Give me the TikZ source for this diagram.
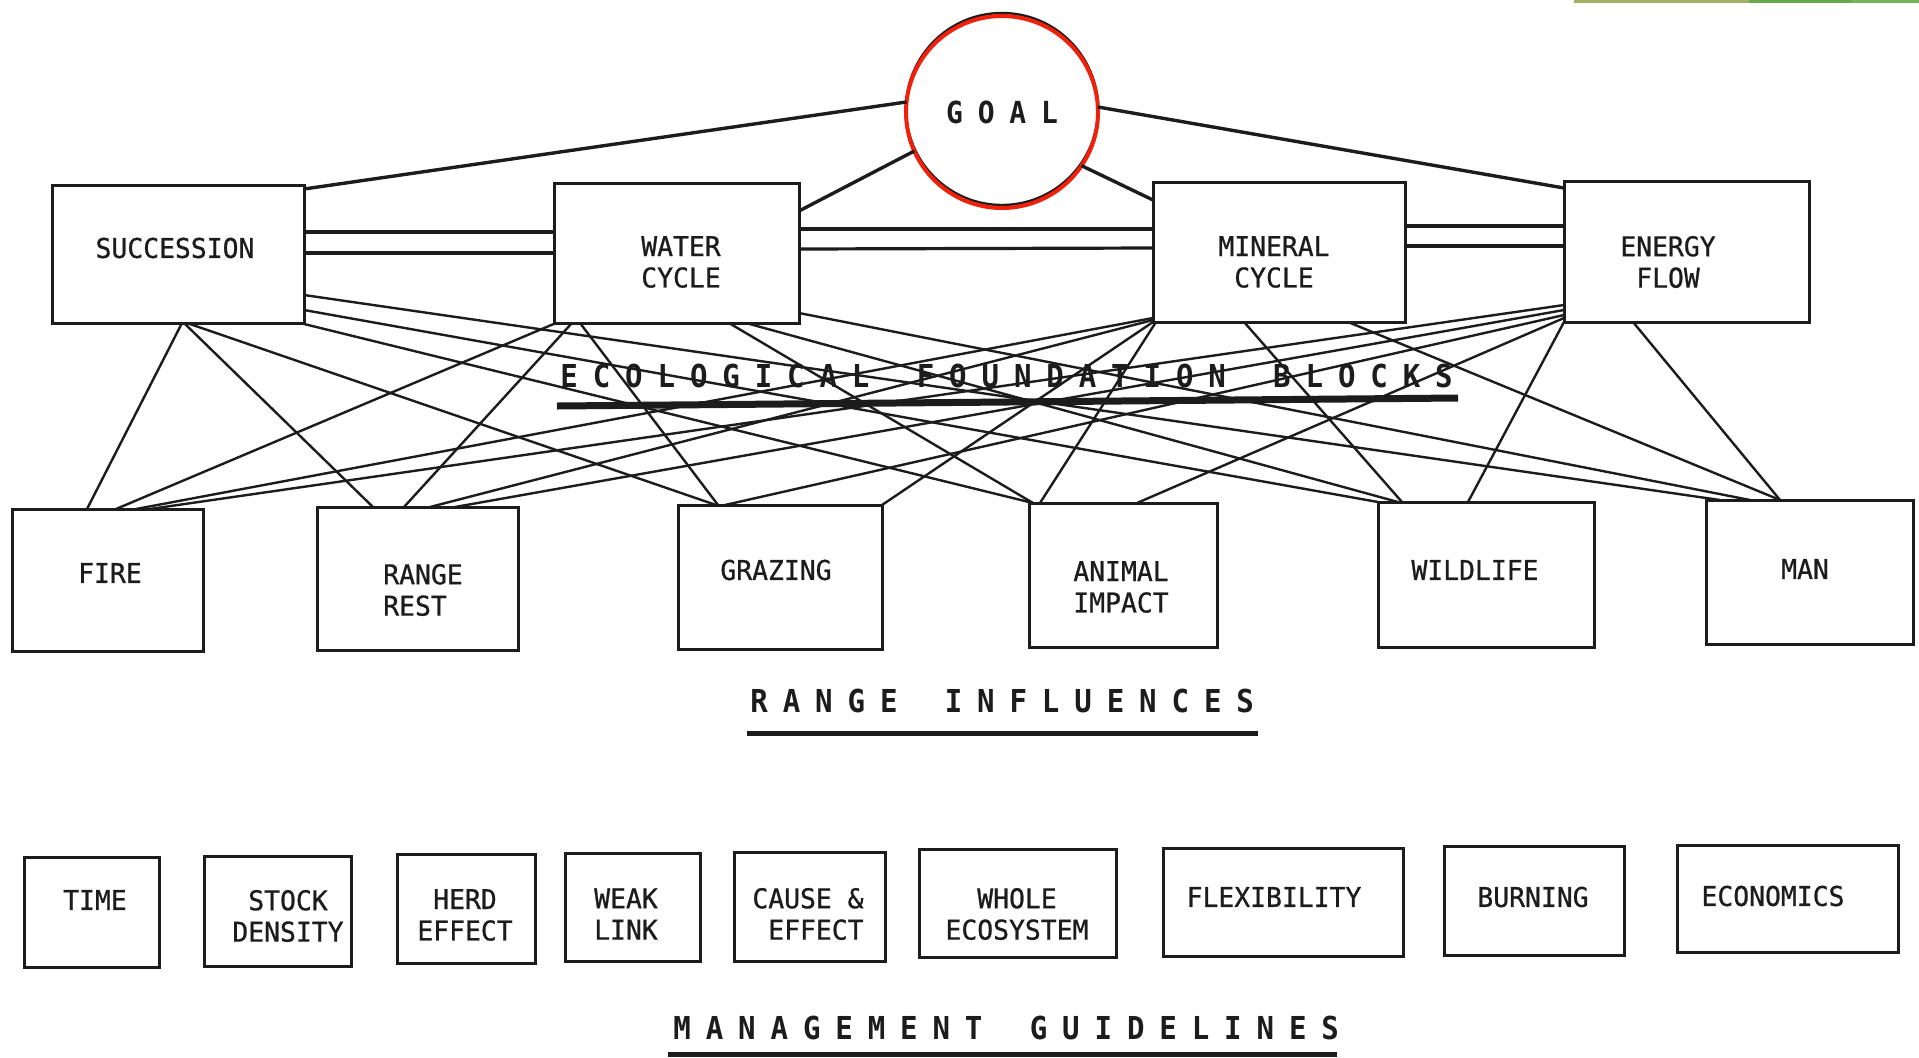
\documentclass[tikz,border=0pt]{standalone}
\usepackage{fontspec}
\newfontfamily\tw[FakeStretch=0.97,FakeBold=0.8]{DejaVu Sans Mono}
\newfontfamily\twt[FakeStretch=0.92]{DejaVu Sans Mono Bold}
\usetikzlibrary{calc}
\definecolor{ink}{HTML}{1C1C1C}
\definecolor{goalred}{HTML}{F0200A}
\definecolor{gA}{HTML}{A2B064}
\definecolor{gB}{HTML}{6AA84A}
\definecolor{gC}{HTML}{77B55A}
\newlength\lsp
\setlength\lsp{7.45pt}
\def\spout#1{\spoutA#1\relax}
\def\spoutA#1{\ifx\relax#1\else#1\hspace{\lsp}\expandafter\spoutA\fi}
\newcommand\mkbox[5]{\node[box, minimum width={(#4-#2)*0.5pt}, minimum height={(#5-#3)*0.5pt}] (#1) at ({(#2+#4)/2},{(#3+#5)/2}) {};}
\begin{document}
\begin{tikzpicture}[x=0.5pt,y=-0.5pt,
  box/.style={draw=ink, line width=1.5pt, inner sep=0pt, outer sep=0pt},
  lbl/.style={font=\tw\fontsize{13.6}{15.7}\selectfont, text=ink, inner sep=0pt, align=center},
  ttl/.style={font=\twt\fontsize{15.8}{17}\selectfont, text=ink, inner sep=0pt, anchor=west},
  cn/.style={draw=ink, line width=1.2pt},
  gl/.style={draw=ink, line width=1.7pt},
  dl/.style={draw=ink, line width=1.6pt},
  ul/.style={draw=ink, line width=2.5pt},
  goalc/.style={circle, draw=goalred, line width=2pt, minimum size=96pt, inner sep=0pt, outer sep=0pt,
     font=\twt\fontsize{15.2}{17}\selectfont, text=ink}]
\useasboundingbox (0,0) rectangle (1919,1057);
\fill[white] (0,0) rectangle (1919,1057);
% green rule top right
\fill[gA] (1574,0) rectangle (1749,2.5);
\fill[gB] (1749,0) rectangle (1852,2.5);
\fill[gC] (1852,0) rectangle (1919,2.5);

% top boxes
\mkbox{succ}{52}{185}{304}{323}
\mkbox{water}{554}{183}{799}{323}
\mkbox{mineral}{1153}{182}{1405}{322}
\mkbox{energy}{1564}{181}{1809}{322}
% range influence boxes
\mkbox{fire}{12}{509}{203}{651}
\mkbox{rrest}{317}{507}{518}{650}
\mkbox{grazing}{678}{505}{882}{649}
\mkbox{aimpact}{1029}{503}{1217}{647}
\mkbox{wildlife}{1378}{502}{1594}{647}
\mkbox{man}{1706}{500}{1913}{644}
% guideline boxes
\mkbox{time}{24}{857}{159}{967}
\mkbox{stock}{204}{856}{351}{966}
\mkbox{herd}{397}{854}{535}{963}
\mkbox{weak}{565}{853}{700}{961}
\mkbox{cause}{734}{852}{885}{961}
\mkbox{whole}{919}{849}{1116}{957}
\mkbox{flex}{1163}{848}{1403}{956}
\mkbox{burn}{1444}{846}{1624}{955}
\mkbox{econ}{1677}{845}{1898}{952}

% goal
\draw[ink, line width=1.2pt] (1002,109) circle[radius=96];
\node[goalc] (goal) at (1002,112) {G\hspace{7.4pt}O\hspace{7.4pt}A\hspace{7.4pt}L};
\draw[gl] (goal.174.7) -- ($(succ.north east)+(0,4)$);
\draw[gl] (goal.204) -- ($(water.north east)+(0,28)$);
\draw[gl] (goal.326) -- ($(mineral.north west)+(0,18)$);
\draw[gl] (goal.3) -- ($(energy.north west)+(0,7)$);

% double links between top boxes
\draw[dl] ($(succ.north east)+(0,47)$) -- ($(water.north west)+(0,49)$);
\draw[dl] ($(succ.north east)+(0,68)$) -- ($(water.north west)+(0,70)$);
\draw[dl] ($(water.north east)+(0,46)$) -- ($(mineral.north west)+(0,47)$);
\draw[dl] ($(water.north east)+(0,66)$) -- ($(mineral.north west)+(0,66)$);
\draw[dl] ($(mineral.north east)+(0,44)$) -- ($(energy.north west)+(0,45)$);
\draw[dl] ($(mineral.north east)+(0,64)$) -- ($(energy.north west)+(0,65)$);

% succession links
\draw[cn] ($(succ.south west)+(130,0)$) -- ($(fire.north west)+(75,0)$);
\draw[cn] ($(succ.south west)+(132,0)$) -- ($(rrest.north west)+(56,0)$);
\draw[cn] ($(succ.south west)+(135,0)$) -- ($(grazing.north west)+(38,0)$);
\draw[cn] ($(succ.south east)+(-4,0)$) -- ($(aimpact.north west)+(4,0)$);
\draw[cn] ($(succ.north east)+(0,125)$) -- (wildlife.north west);
\draw[cn] ($(succ.north east)+(0,110)$) -- ($(man.north west)+(14,0)$);
% water cycle links
\draw[cn] ($(water.south west)+(2,0)$) -- ($(fire.north west)+(104,0)$);
\draw[cn] ($(water.south west)+(18,0)$) -- ($(rrest.north west)+(87,0)$);
\draw[cn] ($(water.south west)+(26,0)$) -- ($(grazing.north west)+(40,0)$);
\draw[cn] ($(water.south west)+(175,0)$) -- ($(aimpact.north west)+(4,0)$);
\draw[cn] ($(water.south west)+(192,0)$) -- ($(wildlife.north west)+(20,0)$);
\draw[cn] ($(water.north east)+(0,130)$) -- ($(man.north west)+(44,0)$);
% mineral cycle links
\draw[cn] ($(mineral.north west)+(0,136)$) -- ($(fire.north west)+(124,0)$);
\draw[cn] ($(mineral.north west)+(0,138)$) -- ($(rrest.north west)+(113,0)$);
\draw[cn] (mineral.south west) -- (grazing.north east);
\draw[cn] ($(mineral.south west)+(3,0)$) -- ($(aimpact.north west)+(11,0)$);
\draw[cn] ($(mineral.south west)+(91,0)$) -- ($(wildlife.north west)+(24,0)$);
\draw[cn] ($(mineral.south west)+(195,0)$) -- ($(man.north west)+(74,0)$);
% energy flow links
\draw[cn] ($(energy.north west)+(0,124)$) -- ($(fire.north west)+(138,0)$);
\draw[cn] ($(energy.north west)+(0,129)$) -- ($(rrest.north west)+(138,0)$);
\draw[cn] ($(energy.north west)+(0,134)$) -- ($(grazing.north west)+(47,0)$);
\draw[cn] ($(energy.north west)+(0,137)$) -- ($(aimpact.north west)+(108,0)$);
\draw[cn] (energy.south west) -- ($(wildlife.north west)+(90,0)$);
\draw[cn] ($(energy.south west)+(69,0)$) -- ($(man.north west)+(74,0)$);

% labels
\node[lbl] (succ-t) at (175,248) {SUCCESSION};
\node[lbl] (water-t) at (681,262) {WATER\\CYCLE};
\node[lbl] (mineral-t) at (1274,262) {MINERAL\\CYCLE};
\node[lbl] (energy-t) at (1668,262) {ENERGY\\FLOW};
\node[lbl] (fire-t) at (110,573) {FIRE};
\node[lbl, align=left] (rrest-t) at (423,590) {RANGE\\REST};
\node[lbl] (grazing-t) at (776,570) {GRAZING};
\node[lbl] (aimpact-t) at (1121,587) {ANIMAL\\IMPACT};
\node[lbl] (wildlife-t) at (1475,570) {WILDLIFE};
\node[lbl] (man-t) at (1805,569) {MAN};
\node[lbl] (time-t) at (95,900) {TIME};
\node[lbl] (stock-t) at (288,916) {STOCK\\DENSITY};
\node[lbl] (herd-t) at (465,915) {HERD\\EFFECT};
\node[lbl] (weak-t) at (626,914) {WEAK\\LINK};
\node[lbl] (cause-t) at (808,914) {CAUSE \&\\\hphantom{C}EFFECT};
\node[lbl] (whole-t) at (1017,914) {WHOLE\\ECOSYSTEM};
\node[lbl] (flex-t) at (1274,897) {FLEXIBILITY};
\node[lbl] (burn-t) at (1533,897) {BURNING};
\node[lbl] (econ-t) at (1773,896) {ECONOMICS};

% section titles
\node[ttl] (eco-t) at (560,376) {\spout{ECOLOGICAL\ FOUNDATION\ BLOCKS}};
\coordinate (eco-a) at (557,406);
\coordinate (eco-b) at (1458,398);
\draw[ink, line width=3.5pt] (eco-a) -- (eco-b);
\node[ttl] (ri-t) at (750,701) {\spout{RANGE\ INFLUENCES}};
\coordinate (ri-a) at (747,733);
\coordinate (ri-b) at (1258,733);
\draw[ul] (ri-a) -- (ri-b);
\node[ttl] (mg-t) at (673,1028) {\spout{MANAGEMENT\ GUIDELINES}};
\coordinate (mg-a) at (668,1054);
\coordinate (mg-b) at (1337,1054);
\draw[ul] (mg-a) -- (mg-b);
\end{tikzpicture}
\end{document}
